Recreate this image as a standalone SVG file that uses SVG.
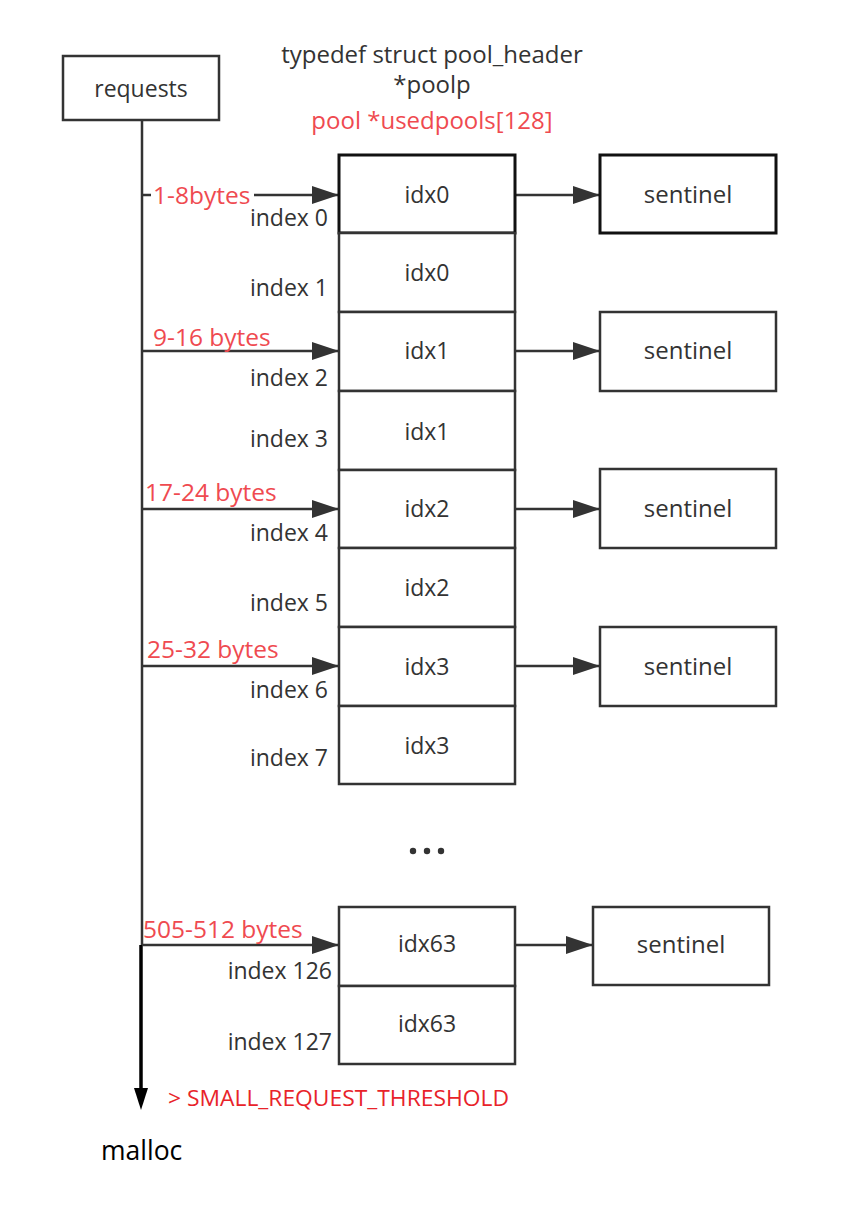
<svg xmlns="http://www.w3.org/2000/svg" width="866" height="1214" viewBox="0 0 866 1214">
<style>
text{font-family:"Open Sans","Noto Sans","DejaVu Sans",sans-serif;font-size:23px;fill:#333}
.red{fill:#ef4a50;font-size:24.5px}
.t24{font-size:24px}
.box{fill:#fff;stroke:#333;stroke-width:2.5}
.bold{fill:#fff;stroke:#111;stroke-width:3}
.c{text-anchor:middle}
.r{text-anchor:end}
.ln{stroke:#333;stroke-width:2.5;fill:none}
</style>
<defs>
<marker id="ah" markerWidth="28" markerHeight="18" refX="27" refY="9" orient="auto" markerUnits="userSpaceOnUse">
<path d="M0,0 L27,9 L0,18 Z" fill="#333"/>
</marker>
</defs>
<rect width="866" height="1214" fill="#fff"/>

<g id="title">
<text x="432" y="63" class="c t24">typedef struct pool_header</text>
<text x="432" y="93" class="c t24">*poolp</text>
<text x="432" y="129" class="c red" style="font-size:24px">pool *usedpools[128]</text>
</g>

<g id="requests">
<rect x="63" y="56" width="156" height="64" class="box"/>
<text x="141" y="97" class="c">requests</text>
</g>

<g id="connectors">
<line x1="142" y1="120" x2="142" y2="946" class="ln"/>
<path d="M141,945 L141,1096" stroke="#000" stroke-width="3.5" fill="none"/>
<path d="M134,1088 L141,1110 L148,1088 Z" fill="#000"/>
<line x1="142" y1="195" x2="339" y2="195" class="ln" stroke-width="3" marker-end="url(#ah)"/>
<line x1="142" y1="351" x2="339" y2="351" class="ln" marker-end="url(#ah)"/>
<line x1="142" y1="509" x2="339" y2="509" class="ln" marker-end="url(#ah)"/>
<line x1="142" y1="666" x2="339" y2="666" class="ln" marker-end="url(#ah)"/>
<line x1="142" y1="945" x2="339" y2="945" class="ln" marker-end="url(#ah)"/>
<line x1="515" y1="195" x2="600" y2="195" class="ln" marker-end="url(#ah)"/>
<line x1="515" y1="351" x2="600" y2="351" class="ln" marker-end="url(#ah)"/>
<line x1="515" y1="509" x2="600" y2="509" class="ln" marker-end="url(#ah)"/>
<line x1="515" y1="666" x2="600" y2="666" class="ln" marker-end="url(#ah)"/>
<line x1="515" y1="945" x2="593" y2="945" class="ln" marker-end="url(#ah)"/>
</g>

<g id="labels">
<rect x="151" y="182" width="103" height="26" fill="#fff"/>
<text x="153" y="204" class="red">1-8bytes</text>
<text x="153" y="346" class="red">9-16 bytes</text>
<text x="145" y="501" class="red">17-24 bytes</text>
<text x="147" y="658" class="red">25-32 bytes</text>
<text x="143" y="938" class="red">505-512 bytes</text>
<text x="328" y="226" class="r">index 0</text>
<text x="328" y="296" class="r">index 1</text>
<text x="328" y="386" class="r">index 2</text>
<text x="328" y="447" class="r">index 3</text>
<text x="328" y="541" class="r">index 4</text>
<text x="328" y="611" class="r">index 5</text>
<text x="328" y="698" class="r">index 6</text>
<text x="328" y="766" class="r">index 7</text>
<text x="332" y="979" class="r">index 126</text>
<text x="332" y="1050" class="r">index 127</text>
<text x="168" y="1106" style="fill:#e8232a;font-size:21px" textLength="341" lengthAdjust="spacingAndGlyphs">&gt; SMALL_REQUEST_THRESHOLD</text>
<text x="101" y="1160" style="fill:#000;font-size:26.5px">malloc</text>
</g>

<g id="usedpools">
<rect x="339" y="155" width="176" height="78" class="bold"/>
<rect x="339" y="233" width="176" height="79" class="box"/>
<rect x="339" y="312" width="176" height="79" class="box"/>
<rect x="339" y="391" width="176" height="79" class="box"/>
<rect x="339" y="470" width="176" height="78" class="box"/>
<rect x="339" y="548" width="176" height="79" class="box"/>
<rect x="339" y="627" width="176" height="79" class="box"/>
<rect x="339" y="706" width="176" height="78" class="box"/>
<text x="427" y="203" class="c">idx0</text>
<text x="427" y="281" class="c">idx0</text>
<text x="427" y="359" class="c">idx1</text>
<text x="427" y="440" class="c">idx1</text>
<text x="427" y="517" class="c">idx2</text>
<text x="427" y="596" class="c">idx2</text>
<text x="427" y="675" class="c">idx3</text>
<text x="427" y="754" class="c">idx3</text>
</g>

<g id="ellipsis">
<circle cx="413" cy="851" r="3.2" fill="#333"/>
<circle cx="427" cy="851" r="3.2" fill="#333"/>
<circle cx="441" cy="851" r="3.2" fill="#333"/>
</g>

<g id="usedpools-tail">
<rect x="339" y="907" width="176" height="79" class="box"/>
<rect x="339" y="986" width="176" height="78" class="box"/>
<text x="427" y="952" class="c">idx63</text>
<text x="427" y="1032" class="c">idx63</text>
</g>

<g id="sentinel0">
<rect x="600" y="155" width="176" height="78" class="bold"/>
<text x="688" y="203" class="c t24">sentinel</text>
</g>
<g id="sentinel1">
<rect x="600" y="312" width="176" height="79" class="box"/>
<text x="688" y="359" class="c t24">sentinel</text>
</g>
<g id="sentinel2">
<rect x="600" y="469" width="176" height="79" class="box"/>
<text x="688" y="517" class="c t24">sentinel</text>
</g>
<g id="sentinel3">
<rect x="600" y="627" width="176" height="79" class="box"/>
<text x="688" y="675" class="c t24">sentinel</text>
</g>
<g id="sentinel63">
<rect x="593" y="907" width="176" height="78" class="box"/>
<text x="681" y="953" class="c t24">sentinel</text>
</g>
</svg>
